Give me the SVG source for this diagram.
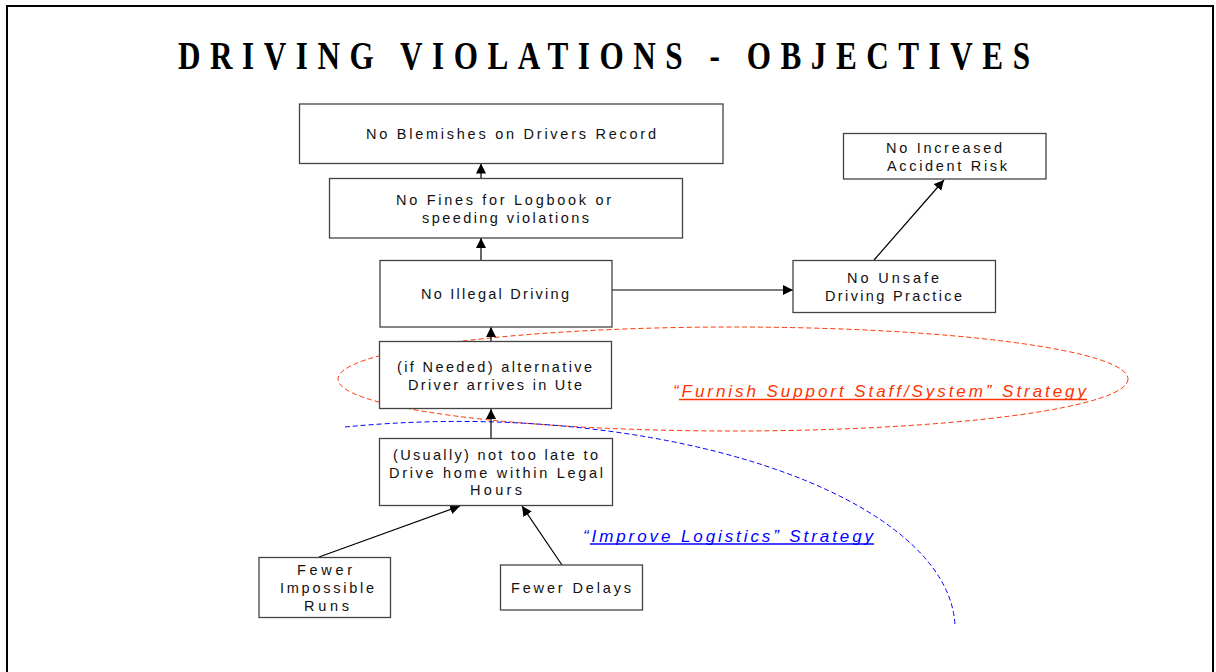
<svg xmlns="http://www.w3.org/2000/svg" width="1216" height="672" viewBox="0 0 1216 672">
  <defs>
    <marker id="arrowhead" viewBox="0 0 10 10" refX="10" refY="5" markerUnits="userSpaceOnUse" markerWidth="10" markerHeight="11" orient="auto">
      <path d="M0,0 L10,5 L0,10 Z" fill="#000"/>
    </marker>
    <style>
      .box { fill: #fff; stroke: #444; stroke-width: 1.3; }
      .lbl { font-family: "Liberation Sans", Arial, sans-serif; font-size: 14.5px; fill: #111; }
      .conn { stroke: #000; stroke-width: 1.2; fill: none; marker-end: url(#arrowhead); }
      .title { font-family: "Liberation Serif", "Times New Roman", serif; font-weight: bold; font-size: 39px; fill: #000; }
      .strategy { font-family: "Liberation Sans", Arial, sans-serif; font-style: italic; font-size: 17px; }
    </style>
  </defs>

  <rect x="0" y="0" width="1216" height="672" fill="#fff"/>
  <!-- page frame -->
  <rect x="7" y="6" width="1206" height="700" fill="none" stroke="#000" stroke-width="2"/>

  <!-- condensed, widely tracked heading -->
  <text class="title" transform="translate(178,69) scale(0.8,1)" x="0" y="0" textLength="1065" lengthAdjust="spacing">DRIVING VIOLATIONS - OBJECTIVES</text>

  <!-- strategy outlines -->
  <g id="strategy-outlines">
    <ellipse cx="733" cy="379" rx="395" ry="52" fill="none" stroke="#ff3300" stroke-width="1" stroke-dasharray="5,3"/>
    <path d="M345,427 A496,208 0 0 1 955,625" fill="none" stroke="#0000ff" stroke-width="1" stroke-dasharray="5,3"/>
  </g>

  <!-- connectors -->
  <g id="connectors">
    <line class="conn" x1="481" y1="178" x2="481" y2="163.5"/>
    <line class="conn" x1="481" y1="260" x2="481" y2="238"/>
    <line class="conn" x1="491" y1="341" x2="491" y2="327"/>
    <line class="conn" x1="491" y1="438" x2="491" y2="409"/>
    <line class="conn" x1="319" y1="557" x2="460" y2="506"/>
    <line class="conn" x1="562" y1="565" x2="522" y2="506"/>
    <line class="conn" x1="612" y1="290" x2="793" y2="290"/>
    <line class="conn" x1="874" y1="260" x2="944" y2="180"/>
  </g>

  <g id="no-blemishes">
    <rect class="box" x="299.5" y="104" width="423.5" height="59.5"/>
    <text class="lbl" x="366" y="139" textLength="290" lengthAdjust="spacing">No Blemishes on Drivers Record</text>
  </g>

  <g id="no-fines">
    <rect class="box" x="329.5" y="178.5" width="353" height="59.5"/>
    <text class="lbl" x="396" y="205" textLength="215" lengthAdjust="spacing">No Fines for Logbook or</text>
    <text class="lbl" x="422" y="223" textLength="167" lengthAdjust="spacing">speeding violations</text>
  </g>

  <g id="no-illegal-driving">
    <rect class="box" x="380" y="260.5" width="232" height="66.5"/>
    <text class="lbl" x="421" y="299" textLength="148" lengthAdjust="spacing">No Illegal Driving</text>
  </g>

  <g id="alternative-driver">
    <rect class="box" x="379.5" y="341.5" width="232" height="67"/>
    <text class="lbl" x="397" y="372" textLength="195" lengthAdjust="spacing">(if Needed) alternative</text>
    <text class="lbl" x="408" y="390" textLength="174" lengthAdjust="spacing">Driver arrives in Ute</text>
  </g>

  <g id="not-too-late">
    <rect class="box" x="379.5" y="438.5" width="233" height="67"/>
    <text class="lbl" x="393" y="460" textLength="205" lengthAdjust="spacing">(Usually) not too late to</text>
    <text class="lbl" x="389" y="477.5" textLength="214" lengthAdjust="spacing">Drive home within Legal</text>
    <text class="lbl" x="470" y="495" textLength="52" lengthAdjust="spacing">Hours</text>
  </g>

  <g id="fewer-impossible-runs">
    <rect class="box" x="259" y="557.5" width="131.5" height="60"/>
    <text class="lbl" x="297" y="575" textLength="55" lengthAdjust="spacing">Fewer</text>
    <text class="lbl" x="280" y="593" textLength="94" lengthAdjust="spacing">Impossible</text>
    <text class="lbl" x="304" y="610.5" textLength="45" lengthAdjust="spacing">Runs</text>
  </g>

  <g id="fewer-delays">
    <rect class="box" x="500.5" y="565" width="142" height="45"/>
    <text class="lbl" x="511" y="592.5" textLength="120" lengthAdjust="spacing">Fewer Delays</text>
  </g>

  <g id="no-unsafe-driving">
    <rect class="box" x="793" y="260.5" width="202.5" height="52"/>
    <text class="lbl" x="847" y="283" textLength="92" lengthAdjust="spacing">No Unsafe</text>
    <text class="lbl" x="825" y="301" textLength="137" lengthAdjust="spacing">Driving Practice</text>
  </g>

  <g id="no-accident-risk">
    <rect class="box" x="843.5" y="133.5" width="202.5" height="45.5"/>
    <text class="lbl" x="886" y="153" textLength="116" lengthAdjust="spacing">No Increased</text>
    <text class="lbl" x="887" y="170.5" textLength="120" lengthAdjust="spacing">Accident Risk</text>
  </g>

  <!-- strategy labels -->
  <g id="strategy-labels">
    <text class="strategy" x="673" y="396.5" fill="#ff3300" textLength="413" lengthAdjust="spacing">“Furnish Support Staff/System” Strategy</text>
    <line x1="679" y1="399.5" x2="1087" y2="399.5" stroke="#ff3300" stroke-width="1.3"/>
    <text class="strategy" x="583" y="541.5" fill="#0000ff" textLength="290" lengthAdjust="spacing">“Improve Logistics” Strategy</text>
    <line x1="590" y1="544" x2="874" y2="544" stroke="#0000ff" stroke-width="1.3"/>
  </g>
</svg>
